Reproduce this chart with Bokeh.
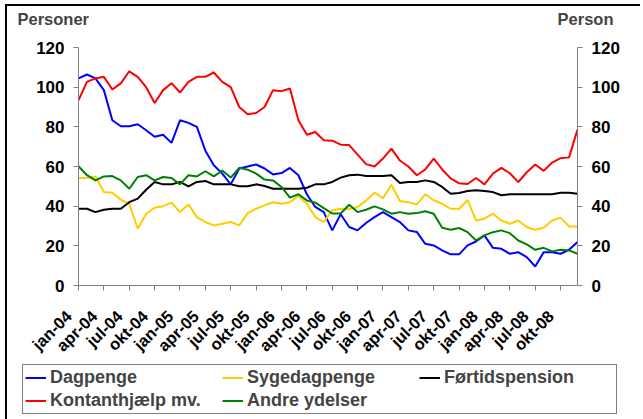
from bokeh.plotting import figure
from bokeh.layouts import column, row
from bokeh.models import (Range1d, LinearAxis, FixedTicker, Legend, LegendItem, Title)
from bokeh.embed import file_html
from bokeh.resources import INLINE

# ---- data (monthly, jan-04 .. dec-08) ----
month_index = list(range(60))
tick_positions = [0, 3, 6, 9, 12, 15, 18, 21, 24, 27, 30, 33, 36, 39, 42, 45, 48, 51, 54, 57]
tick_labels = ["jan-04", "apr-04", "jul-04", "okt-04", "jan-05", "apr-05", "jul-05", "okt-05",
               "jan-06", "apr-06", "jul-06", "okt-06", "jan-07", "apr-07", "jul-07", "okt-07",
               "jan-08", "apr-08", "jul-08", "okt-08"]
y_ticks = [0, 20, 40, 60, 80, 100, 120]

dagpenge = [104.4, 106.4, 104.4, 98.5, 83.3, 80.3, 80.3, 81.3, 78.3, 75, 76, 71.9, 83.3, 82, 80,
            68, 60.6, 56.4, 51, 59, 60, 61, 59, 56, 56.7, 59.3, 55.6, 46, 39.6, 37,
            27.8, 35.9, 29.5, 27.8, 31.5, 34.5, 37, 34.5, 32, 27.8, 27, 21, 20.2, 17.7, 15.7,
            15.7, 20.2, 22.2, 25.3, 19, 18.5, 16, 16.8, 14.3, 9.6, 16.8, 16.8, 16, 18, 21.9]
sygedagpenge = [54.2, 54.2, 55, 47.1, 46.8, 43.3, 41.2, 28.6, 36.2, 39.2, 40, 41.8, 37, 40.9, 34.5,
                32, 30.3, 31.1, 32, 30.3, 36.5, 38.7, 40.4, 42, 41.2, 42, 45.1, 41.2, 34.5, 32,
                37.9, 38.7, 38.5, 39.6, 42.8, 46.8, 44, 50.8, 42.6, 42, 40.9, 46, 43, 41.2, 38.7,
                38.7, 43, 32.8, 33.7, 36.2, 32.8, 31.1, 32.8, 29.5, 28.1, 29.1, 32.8, 34.2, 29.8, 29.8]
fortidspension = [38.7, 38.7, 37, 38.2, 38.7, 38.7, 42, 43.8, 48.3, 52.2, 51, 51, 52.2, 50, 52.2,
                  52.7, 51, 51, 51, 50, 50, 51, 50.2, 48.8, 48.8, 48.8, 48.8, 49.3, 51, 51,
                  52.2, 54.4, 55.6, 55.9, 55.2, 55.2, 55.2, 55.6, 51.7, 52.2, 52.2, 53, 52.2, 49.7, 46.3,
                  46.6, 47.6, 48, 47.6, 47.1, 45.5, 46, 46, 46, 46, 46, 46, 46.8, 46.8, 46.3]
kontanthjaelp = [93.4, 102.7, 104.4, 105.2, 98.8, 101.9, 108, 105.2, 100, 92, 98.5, 102, 97.3, 102.7, 105.2,
                 105.2, 107.4, 102.7, 100, 90, 86.4, 87, 90, 98.5, 98, 99.3, 83.3, 76, 77.4, 73.2,
                 73, 71, 70.8, 66, 61.2, 60, 64, 69, 63, 60, 55.6, 58.5, 64, 58.5, 54,
                 51.5, 51.2, 54.2, 51, 56.4, 59.3, 56.6, 52.1, 57.1, 61, 57.8, 62, 64.2, 64.6, 78.6]
andre_ydelser = [60.1, 55.6, 53, 55, 55.2, 53, 48.8, 54.7, 55.6, 53, 54.7, 54.2, 51, 55.6, 55,
                 57.6, 55, 58, 54.4, 59.3, 58.4, 56.4, 53.4, 53, 49.7, 44.3, 46, 42.9, 41.8, 39,
                 36.3, 36.3, 40.7, 37, 38.2, 39.9, 38.4, 36.2, 37, 36.2, 36.5, 37.4, 36.2, 29.1, 28.1,
                 29, 26.9, 22.7, 25.3, 26.9, 27.8, 26.4, 22.7, 20.7, 18, 19, 17.2, 18, 17.7, 16]

series_names = ["Dagpenge", "Sygedagpenge", "Førtidspension", "Kontanthjælp mv.", "Andre ydelser"]
series_values = [dagpenge, sygedagpenge, fortidspension, kontanthjaelp, andre_ydelser]
series_colors = ["#0000FF", "#FFCC00", "#000000", "#FF0000", "#008000"]

FONT = "Liberation Sans"

# ---- main chart ----
p = figure(width=633, frame_width=499, frame_height=238,
           min_border_left=71, min_border_right=63, min_border_top=41, min_border_bottom=75,
           x_range=Range1d(0, 59), y_range=Range1d(0, 120),
           output_backend="svg", toolbar_location=None, tools="")
p.outline_line_color = None
p.background_fill_color = "white"
p.border_fill_color = "white"
p.xgrid.grid_line_color = None
p.ygrid.grid_line_color = None
p.extra_y_ranges = {"right": Range1d(0, 120)}

def style_y(ax):
    ax.ticker = FixedTicker(ticks=y_ticks)
    ax.axis_line_color = "#808080"
    ax.major_tick_line_color = "#808080"
    ax.minor_tick_line_color = None
    ax.major_tick_in = 0
    ax.major_tick_out = 5
    ax.major_label_text_font = FONT
    ax.major_label_text_font_style = "bold"
    ax.major_label_text_font_size = "17px"
    ax.major_label_text_color = "black"
    ax.major_label_standoff = 9

style_y(p.yaxis[0])
right_axis = LinearAxis(y_range_name="right")
style_y(right_axis)
p.add_layout(right_axis, "right")

xa = p.xaxis[0]
xa.ticker = FixedTicker(ticks=tick_positions)
# trailing no-break spaces shift the slanted labels down-left of their ticks, as in the original
xa.major_label_overrides = {t: l + "\u00a0\u00a0\u00a0" for t, l in zip(tick_positions, tick_labels)}
xa.major_label_orientation = 0.785398
xa.axis_line_color = "#808080"
xa.major_tick_line_color = "#808080"
xa.minor_tick_line_color = None
xa.major_tick_in = 0
xa.major_tick_out = 5
xa.major_label_text_font = FONT
xa.major_label_text_font_style = "bold"
xa.major_label_text_font_size = "16.5px"
xa.major_label_text_color = "black"
xa.major_label_standoff = 13

for name, vals, col in zip(series_names, series_values, series_colors):
    p.line(month_index, vals, line_color=col, line_width=2)

# axis titles above the frame (spacer panel + two zero-height title rows)
spacer = Title(text=" ", standoff=13, text_font=FONT, text_font_size="16.5px")
t_left = Title(text="Personer", align="left", offset=-61, standoff=-26,
               text_font=FONT, text_font_style="bold", text_font_size="16.5px")
t_right = Title(text="Person", align="right", offset=-36, standoff=-26,
                text_font=FONT, text_font_style="bold", text_font_size="16.5px")
p.add_layout(spacer, "above")
p.add_layout(t_left, "above")
p.add_layout(t_right, "above")

# ---- legend strip ----
lg = figure(width=633, height=56, x_range=Range1d(0, 59), y_range=Range1d(500, 501),
            min_border=0, x_axis_type=None, y_axis_type=None,
            output_backend="svg", toolbar_location=None, tools="")
lg.outline_line_color = None
lg.xgrid.grid_line_color = None
lg.ygrid.grid_line_color = None
items = []
for name, vals, col in zip(series_names, series_values, series_colors):
    r = lg.line(month_index, vals, line_color=col, line_width=2)
    items.append(LegendItem(label=name, renderers=[r]))

legend = Legend(items=items, orientation="horizontal", ncols=3, location=(15, 5))
legend.label_text_font = FONT
legend.label_text_font_style = "bold"
legend.label_text_font_size = "18px"
legend.label_height = 19
legend.label_width = 170
legend.glyph_width = 21
legend.glyph_height = 19
legend.label_standoff = 4
legend.spacing = 2
legend.padding = 2
legend.margin = 0
legend.border_line_color = "black"
legend.border_line_width = 1
legend.background_fill_color = "white"
legend.background_fill_alpha = 1
lg.add_layout(legend, "center")

root = column(p, row(lg), spacing=0)
root.margin = (4, 0, 0, 5)
root.styles = {"border-left": "2px solid black", "border-top": "2px solid black"}

open("out.html", "w").write(file_html(root, INLINE))
